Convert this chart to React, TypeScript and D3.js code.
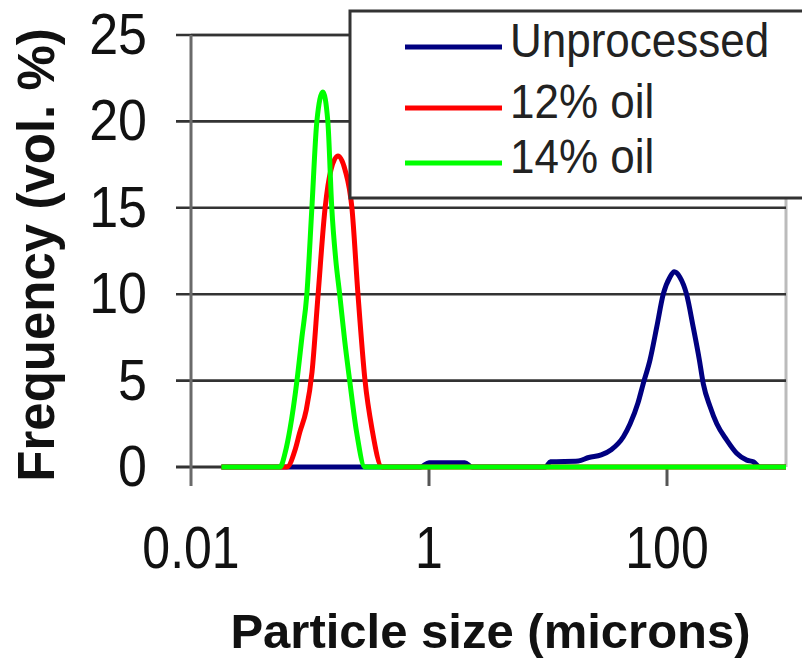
import React from "react";
import * as d3 from "d3";

// axis ticks
const yTicks = [0, 5, 10, 15, 20, 25];
const xTicks = [0.01, 1, 100];
const xTickLabels = ["0.01", "1", "100"];

// legend
const seriesNames = ["Unprocessed", "12% oil", "14% oil"];
const seriesColors = ["#000080", "#ff0000", "#00ff00"];

// particle size (microns) / frequency (vol. %)
const unprocessedSize = [0.018, 0.85, 1.0, 1.5, 2.0, 2.3, 9.5, 10.5, 18, 22, 28, 34, 43, 49, 57, 63, 72, 82, 93, 106, 115, 128, 146, 166, 187, 202, 230, 262, 318, 385, 468, 531, 605, 1000];
const unprocessedFreq = [0, 0, 0.25, 0.25, 0.25, 0, 0, 0.3, 0.35, 0.55, 0.7, 1.0, 1.75, 2.5, 3.7, 4.8, 6.2, 8.1, 10.0, 11.0, 11.3, 11.0, 10.0, 8.1, 6.2, 4.8, 3.5, 2.5, 1.56, 0.8, 0.4, 0.3, 0, 0];

const oil12Size = [0.018, 0.064, 0.075, 0.082, 0.093, 0.104, 0.117, 0.134, 0.150, 0.172, 0.197, 0.225, 0.253, 0.29, 0.332, 0.403, 1000];
const oil12Freq = [0, 0, 1.0, 2.0, 3.3, 5.5, 10, 15, 17.2, 18, 17.2, 15, 10, 5, 2.2, 0, 0];

const oil14Size = [0.018, 0.056, 0.0617, 0.0679, 0.0777, 0.0855, 0.0941, 0.1037, 0.1142, 0.1283, 0.1412, 0.1524, 0.1646, 0.1776, 0.1957, 0.2155, 0.2465, 0.2893, 1000];
const oil14Freq = [0, 0, 0.8, 2.2, 5, 7.5, 10, 15, 20, 21.7, 20, 15, 12, 10, 7.3, 5, 2, 0, 0];

const FONT = "'Liberation Sans', Arial, sans-serif";

export default function App() {
  const width = 802;
  const height = 662;
  const left = 191, right = 786, top = 35, bottom = 467;

  const x = d3.scaleLog().domain([0.01, 1000]).range([left, right]);
  const y = d3.scaleLinear().domain([0, 25]).range([bottom, top]);

  const line = d3
    .line<[number, number]>()
    .x(d => x(d[0]))
    .y(d => y(d[1]))
    .curve(d3.curveMonotoneX);

  const series = [
    d3.zip(unprocessedSize, unprocessedFreq) as [number, number][],
    d3.zip(oil12Size, oil12Freq) as [number, number][],
    d3.zip(oil14Size, oil14Freq) as [number, number][],
  ];

  return (
    <svg
      width={width}
      height={height}
      style={{ position: "absolute", left: 0, top: 0, background: "#fff" }}
      fontFamily={FONT}
    >
      {/* plot frame */}
      <line x1={left} x2={right} y1={top} y2={top} stroke="#aaa" strokeWidth={3} />
      <line x1={right} x2={right} y1={top} y2={bottom} stroke="#bbb" strokeWidth={3} />

      {/* gridlines + y ticks */}
      {yTicks.map(t => (
        <line key={t} x1={176} x2={right} y1={y(t)} y2={y(t)} stroke="#333" strokeWidth={t === 0 ? 3 : 2.6} />
      ))}

      {/* y axis */}
      <line x1={left} x2={left} y1={top} y2={bottom + 19} stroke="#6a6a6a" strokeWidth={3} />

      {/* x ticks */}
      {xTicks.slice(1).map(t => (
        <line key={t} x1={x(t)} x2={x(t)} y1={bottom} y2={bottom + 19} stroke="#555" strokeWidth={3} />
      ))}

      {/* data */}
      {series.map((s, i) => (
        <path key={i} d={line(s) || ""} fill="none" stroke={seriesColors[i]} strokeWidth={5} strokeLinejoin="round" />
      ))}

      {/* y tick labels */}
      {yTicks.map(t => (
        <text key={t} transform={`translate(147,${y(t) + 19}) scale(1,1.1)`} textAnchor="end" fontSize={52} fill="#111">
          {t}
        </text>
      ))}

      {/* x tick labels */}
      {xTicks.map((t, i) => (
        <text key={t} transform={`translate(${x(t)},568) scale(1,1.18)`} textAnchor="middle" fontSize={50} fill="#111">
          {xTickLabels[i]}
        </text>
      ))}

      {/* axis titles */}
      <text x={(left + right) / 2 + 2} y={648} textAnchor="middle" fontSize={49} fontWeight="bold" fill="#111">
        Particle size (microns)
      </text>
      <text transform={`translate(54,255) rotate(-90)`} textAnchor="middle" fontSize={51} fontWeight="bold" fill="#111">
        Frequency (vol. %)
      </text>

      {/* legend */}
      <rect x={350} y={11} width={470} height={187} fill="#fff" stroke="#333" strokeWidth={3} />
      {seriesNames.map((n, i) => {
        const ly = [47, 108, 163][i];
        return (
          <g key={n}>
            <line x1={405} x2={502} y1={ly} y2={ly} stroke={seriesColors[i]} strokeWidth={5} />
            <text x={510} y={ly + 10} fontSize={44} fill="#222" transform={`translate(0,${ly + 10}) scale(1,1.08) translate(0,${-(ly + 10)})`}>
              {n}
            </text>
          </g>
        );
      })}
    </svg>
  );
}
